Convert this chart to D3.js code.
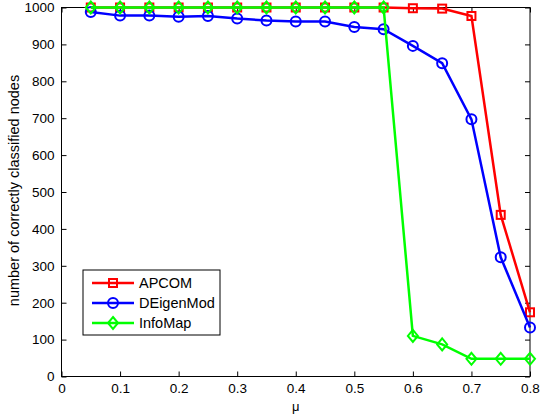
<!DOCTYPE html>
<html><head><meta charset="utf-8">
<script src="https://cdn.jsdelivr.net/npm/d3@7"></script>
<style>body{margin:0;background:#fff}svg{display:block}text{font-family:"Liberation Sans",Arial,sans-serif}</style>
</head><body>
<script>
const mu = [0.05,0.1,0.15,0.2,0.25,0.3,0.35,0.4,0.45,0.5,0.55,0.6,0.65,0.7,0.75,0.8];
const apcom = [1000,1000,1000,1000,1000,1000,1000,1000,1000,1000,1000,998,997,977,438,174];
const deigen = [988,978,978,975,977,970,965,962,962,947,941,896,849,697,323,133];
const infomap = [1000,1000,1000,1000,1000,1000,1000,1000,1000,1000,1000,110,87,48,48,48];
const xTicks = [0,0.1,0.2,0.3,0.4,0.5,0.6,0.7,0.8];
const yTicks = [0,100,200,300,400,500,600,700,800,900,1000];
const seriesNames = ["APCOM","DEigenMod","InfoMap"];
const colors = ["#ff0000","#0000ff","#00ff00"];

const W=541,H=416, L=61.5,R=530,T=7.5,B=376.5;
const svg=d3.select("body").append("svg").attr("width",W).attr("height",H);
const x=d3.scaleLinear().domain([0,0.8]).range([L,R]);
const y=d3.scaleLinear().domain([0,1000]).range([B,T]);

function styleAxis(g){g.select(".domain").remove();g.selectAll("line").attr("stroke","#000");g.selectAll("text").attr("font-size",13.5).attr("fill","#000");}
svg.append("g").attr("transform",`translate(0,${B})`).call(d3.axisBottom(x).tickValues(xTicks).tickSizeInner(-5).tickSizeOuter(0).tickPadding(7).tickFormat(d=>d===0?"0":d3.format(".1f")(d))).call(styleAxis);
svg.append("g").attr("transform",`translate(0,${T})`).call(d3.axisTop(x).tickValues(xTicks).tickSizeInner(-5).tickSizeOuter(0).tickFormat("")).call(styleAxis);
svg.append("g").attr("transform",`translate(${L},0)`).call(d3.axisLeft(y).tickValues(yTicks).tickSizeInner(-5).tickSizeOuter(0).tickPadding(7).tickFormat(d3.format("d"))).call(styleAxis);
svg.append("g").attr("transform",`translate(${R},0)`).call(d3.axisRight(y).tickValues(yTicks).tickSizeInner(-5).tickSizeOuter(0).tickFormat("")).call(styleAxis);
svg.append("rect").attr("x",L).attr("y",T).attr("width",R-L).attr("height",B-T).attr("fill","none").attr("stroke","#000").attr("stroke-width",1);

const data=[apcom,deigen,infomap];
const line=d3.line().x((d,i)=>x(mu[i])).y(d=>y(d));
function marker(g,k,cx,cy,c){
  if(k===0) g.append("rect").attr("x",cx-4).attr("y",cy-4).attr("width",8).attr("height",8).attr("fill","none").attr("stroke",c).attr("stroke-width",2);
  else if(k===1) g.append("circle").attr("cx",cx).attr("cy",cy).attr("r",5).attr("fill","none").attr("stroke",c).attr("stroke-width",2);
  else g.append("path").attr("d",`M${cx},${cy-6}L${cx+5},${cy}L${cx},${cy+6}L${cx-5},${cy}Z`).attr("fill","none").attr("stroke",c).attr("stroke-width",2);
}
data.forEach((s,k)=>{
  const g=svg.append("g");
  g.append("path").datum(s).attr("d",line).attr("fill","none").attr("stroke",colors[k]).attr("stroke-width",2.5);
  s.forEach((v,i)=>marker(g,k,x(mu[i]),y(v),colors[k]));
});

// legend
const lg=svg.append("g");
lg.append("rect").attr("x",83).attr("y",270).attr("width",137).attr("height",65).attr("fill","#fff").attr("stroke","#000").attr("stroke-width",1);
seriesNames.forEach((n,k)=>{
  const yy=283+k*20;
  lg.append("line").attr("x1",92).attr("x2",134).attr("y1",yy).attr("y2",yy).attr("stroke",colors[k]).attr("stroke-width",2.5);
  marker(lg,k,113,yy,colors[k]);
  lg.append("text").attr("x",139).attr("y",yy+5).attr("font-size",14.5).text(n);
});

svg.append("text").attr("x",L+(R-L)/2).attr("y",411).attr("text-anchor","middle").attr("font-size",13).text("μ");
svg.append("text").attr("transform",`translate(19,${190.5}) rotate(-90)`).attr("text-anchor","middle").attr("font-size",14.5).text("number of correctly classified nodes");
</script>
</body></html>
